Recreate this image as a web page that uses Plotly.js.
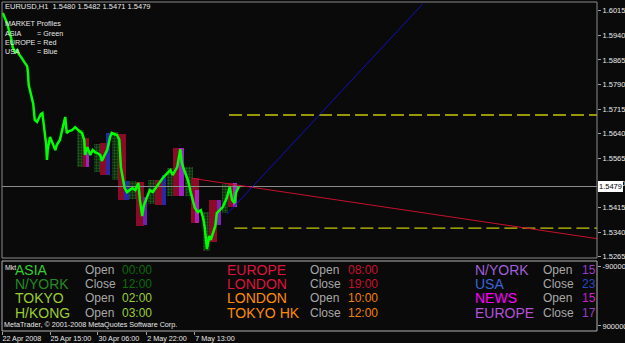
<!DOCTYPE html>
<html><head><meta charset="utf-8">
<script src="https://cdn.plot.ly/plotly-3.0.1.min.js"></script>
<style>html,body{margin:0;padding:0;background:#0a0a0a;}#chart{width:625px;height:343px;}</style>
</head><body><div id="chart"></div>
<script>
// ---- data (hours since first tick, EURUSD prices) ----
const barHour = [1,4,7,9,12,14,17,20,22,25,28,30,33,34,35,37,38,41,42,43,46,49,51,53,55,58,59,60,63,66,70,72,76,79,81,83,85,88,92,96,100,102,105,108,109,112,116,119,122,125,129,131,134,138,142,144,147,151,154,156,159,161,164,167,171,175,179,181,184,186,190,194,198,203,207,211,217,221,224,230,234,236,240,244,248,251,253,257,261,264,266,269,272,274,277,280,282,286,290,295,299,302,305,307,310,311];
const closePrice = [1.6008,1.5990,1.5975,1.5956,1.5932,1.5904,1.5889,1.5895,1.5883,1.5874,1.5865,1.5856,1.5846,1.5828,1.5789,1.5767,1.5755,1.5731,1.5706,1.5682,1.5676,1.5691,1.5700,1.5703,1.5667,1.5606,1.5560,1.5590,1.5630,1.5612,1.5590,1.5606,1.5621,1.5651,1.5676,1.5691,1.5642,1.5648,1.5651,1.5660,1.5651,1.5648,1.5642,1.5621,1.5575,1.5599,1.5575,1.5590,1.5584,1.5581,1.5575,1.5557,1.5572,1.5590,1.5630,1.5642,1.5639,1.5636,1.5621,1.5538,1.5499,1.5474,1.5462,1.5468,1.5474,1.5468,1.5490,1.5438,1.5389,1.5420,1.5447,1.5468,1.5462,1.5478,1.5490,1.5505,1.5520,1.5529,1.5514,1.5538,1.5593,1.5551,1.5523,1.5499,1.5459,1.5435,1.5414,1.5401,1.5407,1.5383,1.5356,1.5289,1.5328,1.5316,1.5337,1.5359,1.5398,1.5407,1.5417,1.5444,1.5478,1.5438,1.5429,1.5459,1.5474,1.5479];

const asiaStart = [98,121,144,167,192,217,240,264,289];
const asiaEnd   = [108,129,152,176,201,224,251,273,297];
const asiaLow   = [1.5539,1.5523,1.5499,1.5441,1.5426,1.5450,1.5450,1.5282,1.5398];
const asiaHigh  = [1.5651,1.5609,1.5645,1.5496,1.5499,1.5535,1.5539,1.5401,1.5487];

const euroStart = [106,129,152,176,201,224,248,272,297];
const euroEnd   = [114,138,163,186,210,235,259,282,306];
const euroLow   = [1.5539,1.5514,1.5438,1.5359,1.5423,1.5450,1.5368,1.5310,1.5417];
const euroHigh  = [1.5627,1.5612,1.5639,1.5493,1.5499,1.5596,1.5505,1.5438,1.5490];

const usaStart = [110,137,160,185,210,232,253,282,303];
const usaEnd   = [114,142,167,190,215,239,259,287,308];
const usaLow   = [1.5539,1.5514,1.5438,1.5362,1.5423,1.5450,1.5368,1.5362,1.5417];
const usaHigh  = [1.5590,1.5642,1.5496,1.5447,1.5514,1.5596,1.5468,1.5438,1.5490];

const redTrendHour = [249,781];
const redTrendPrice = [1.5504,1.5320];
const blueTrendHour = [295,552];
const blueTrendPrice = [1.5394,1.6035];
const upperLevel = 1.5697, upperLevelFrom = 298;
const lowerLevel = 1.5352, lowerLevelFrom = 305;
const lastPrice = 1.5479;
const chartEndHour = 781;

const priceTicks = [1.5265,1.5340,1.5415,1.5490,1.5565,1.5640,1.5715,1.5790,1.5865,1.5940,1.6015];
const timeTickHours = [0,63,126,190,253];
const timeTickText = ['22 Apr 2008','25 Apr 15:00','30 Apr 06:00','2 May 22:00','7 May 13:00'];

const headerText = 'EURUSD,H1  1.5480 1.5482 1.5471 1.5479';
const profileLabels = ['MARKET Profiles','ASIA','EUROPE','USA'];
const profileValues = ['','= Green','= Red','= Blue'];

const sessionNames = [['ASIA','N/YORK','TOKYO','H/KONG'],['EUROPE','LONDON','LONDON','TOKYO HK'],['N/YORK','USA','NEWS','EUROPE']];
const sessionActs  = [['Open','Close','Open','Open'],['Open','Close','Open','Close'],['Open','Close','Open','Close']];
const sessionTimes = [['00:00','12:00','02:00','03:00'],['08:00','19:00','10:00','12:00'],['15','23','15','17']];
const indicatorTicks = [-9000000, 9000000];

// ---- styles ----
const bg = '#0a0a0a';
const nameColors = [['#32CD32','#228B22','#9ACD32','#9ACD32'],['#DC143C','#DC143C','#FF8C00','#FF8C00'],['#A060D8','#3C64D8','#FF00FF','#B450DC']];
const timeColors = [['#0A6A0A','#0A6A0A','#9ACD32','#9ACD32'],['#C8102E','#C8102E','#F08000','#F08000'],['#9A3CC8','#2848C0','#C820C8','#9A3CC8']];
const usaColors = ['#A020C0','#2828A8','#2828A8','#7020B0','#2828A8','#A020C8','#B020C0','#8020B8','#A030C8'];

function boxTrace(st,en,lo,hi,marker){
  return {type:'bar', x: st.map((s,i)=>(s+en[i])/2), width: st.map((s,i)=>en[i]-s),
    base: lo, y: hi.map((h,i)=>h-lo[i]), marker: marker, xaxis:'x', yaxis:'y', hoverinfo:'skip'};
}

const traces = [
  boxTrace(asiaStart,asiaEnd,asiaLow,asiaHigh,{color:'#0e2a0e', line:{width:0},
     pattern:{shape:'.', fgcolor:'#1f5c1f', bgcolor:'#0d1f0d', size:3, solidity:0.45}}),
  boxTrace(euroStart,euroEnd,euroLow,euroHigh,{color:'#8A0A28', line:{width:0}}),
  boxTrace(usaStart,usaEnd,usaLow,usaHigh,{color:usaColors, line:{width:0}}),
  {type:'scatter', mode:'lines', x:[0,chartEndHour], y:[lastPrice,lastPrice], line:{color:'#8c8c8c', width:1}, hoverinfo:'skip'},
  {type:'scatter', mode:'lines', x:[upperLevelFrom,chartEndHour], y:[upperLevel,upperLevel], line:{color:'#C8C800', width:1.3, dash:'13px,5px'}, hoverinfo:'skip'},
  {type:'scatter', mode:'lines', x:[lowerLevelFrom,chartEndHour], y:[lowerLevel,lowerLevel], line:{color:'#C8C800', width:1.3, dash:'13px,5px'}, hoverinfo:'skip'},
  {type:'scatter', mode:'lines', x:redTrendHour, y:redTrendPrice, line:{color:'#C8102E', width:1}, hoverinfo:'skip'},
  {type:'scatter', mode:'lines', x:blueTrendHour, y:blueTrendPrice, line:{color:'#1010C0', width:1}, hoverinfo:'skip'},
  {type:'scatter', mode:'lines', x:barHour, y:closePrice, line:{color:'#00FF00', width:2.5}, hoverinfo:'skip'},
  {type:'scatter', mode:'markers', x:[null], y:[null], xaxis:'x2', yaxis:'y2', hoverinfo:'skip'}
];

const F = 'Liberation Sans, Arial, sans-serif';
const px2x = p => (p-2)/595;          // paper x from pixel
const lowY = p => (331-p)/70;        // y2 domain from pixel

const ann = [];
ann.push({xref:'paper', yref:'paper', x:px2x(3), y:(331-7)/329 , xanchor:'left', yanchor:'middle', text:headerText, showarrow:false, font:{family:F,size:7.5,color:'#e8e8e8'}});
const profY = [24,33.3,42.3,51.7];
profileLabels.forEach((t,i)=>{
  ann.push({xref:'paper', yref:'paper', x:px2x(3), y:(331-profY[i])/329, xanchor:'left', yanchor:'middle', text:t, showarrow:false, font:{family:F,size:7.2,color:'#e8e8e8'}});
  if(profileValues[i]) ann.push({xref:'paper', yref:'paper', x:px2x(35), y:(331-profY[i])/329, xanchor:'left', yanchor:'middle', text:profileValues[i], showarrow:false, font:{family:F,size:7.2,color:'#e8e8e8'}});
});
// last price marker
ann.push({xref:'paper', yref:'y', x:1, y:lastPrice, xanchor:'left', yanchor:'middle', xshift:1, text:lastPrice.toFixed(4), showarrow:false, bgcolor:'#ffffff', borderpad:0, borderwidth:1, bordercolor:'#ffffff', font:{family:F,size:7.5,color:'#000000'}});

// session table
const rowY = [270,284.3,298.3,313.3];
const colName = [15,227,475], colAct = [84,309,542], colTime = [121,347,581];
for(let c=0;c<3;c++){
  for(let r=0;r<4;r++){
    ann.push({xref:'paper', yref:'y2 domain', x:px2x(colName[c]), y:lowY(rowY[r]), xanchor:'left', yanchor:'middle', text:sessionNames[c][r], showarrow:false, borderpad:0, borderwidth:0, font:{family:F,size:14,color:nameColors[c][r]}});
    ann.push({xref:'paper', yref:'y2 domain', x:px2x(colAct[c]+1), y:lowY(rowY[r]), xanchor:'left', yanchor:'middle', text:sessionActs[c][r], showarrow:false, borderpad:0, borderwidth:0, font:{family:F,size:12,color:'#A8A8A8'}});
    ann.push({xref:'paper', yref:'y2 domain', x:px2x(colTime[c]+1), y:lowY(rowY[r]), xanchor:'left', yanchor:'middle', text:sessionTimes[c][r], showarrow:false, borderpad:0, borderwidth:0, font:{family:F,size:12,color:timeColors[c][r]}});
  }
}
ann.push({xref:'paper', yref:'y2 domain', x:px2x(3), y:lowY(267), xanchor:'left', yanchor:'middle', text:'Mkt', showarrow:false, font:{family:F,size:7,color:'#e8e8e8'}});
ann.push({xref:'paper', yref:'y2 domain', x:px2x(2), y:lowY(324), xanchor:'left', yanchor:'middle', text:'MetaTrader, © 2001-2008 MetaQuotes Software Corp.', showarrow:false, font:{family:F,size:7.2,color:'#e8e8e8'}});

const layout = {
  width:625, height:343, paper_bgcolor:bg, plot_bgcolor:bg, showlegend:false,
  margin:{l:2, r:28, t:2, b:12}, barmode:'overlay', bargap:0,
  font:{family:F, size:7.5, color:'#e8e8e8'},
  xaxis:{domain:[0,1], range:[0,chartEndHour], anchor:'y', showticklabels:false, showgrid:false, zeroline:false, ticks:''},
  yaxis:{domain:[(331-258)/329,1], range:[1.5261,1.60415], side:'right', tickvals:priceTicks, ticktext:priceTicks.map(v=>v.toFixed(4)),
    ticks:'outside', ticklen:3, tickcolor:'#a0a0a0', showgrid:false, zeroline:false, ticklabeloverflow:'allow', tickfont:{family:F,size:7.5,color:'#e8e8e8'}},
  xaxis2:{domain:[0,1], range:[0,chartEndHour], anchor:'y2', tickvals:timeTickHours, ticktext:timeTickText, ticks:'outside', ticklen:3, tickcolor:'#a0a0a0',
    tickangle:0, ticklabelposition:'outside right', ticklabeloverflow:'allow', showgrid:false, zeroline:false, tickfont:{family:F,size:7.2,color:'#e8e8e8'}},
  yaxis2:{domain:[0,(331-261)/329], range:[10540000,-10760000], side:'right', tickvals:indicatorTicks, ticktext:indicatorTicks.map(String),
    ticks:'outside', ticklen:3, tickcolor:'#a0a0a0', showgrid:false, zeroline:false, ticklabeloverflow:'allow', tickfont:{family:F,size:7.5,color:'#e8e8e8'}},
  shapes:[
    {type:'rect', xref:'paper', yref:'y domain', x0:0, x1:1, y0:0, y1:1, line:{color:'#8a8a8a', width:1}},
    {type:'rect', xref:'paper', yref:'y2 domain', x0:0, x1:1, y0:0, y1:1, line:{color:'#b0b0b0', width:1}}
  ],
  annotations: ann
};
Plotly.newPlot('chart', traces, layout, {displayModeBar:false, staticPlot:true});
</script></body></html>
